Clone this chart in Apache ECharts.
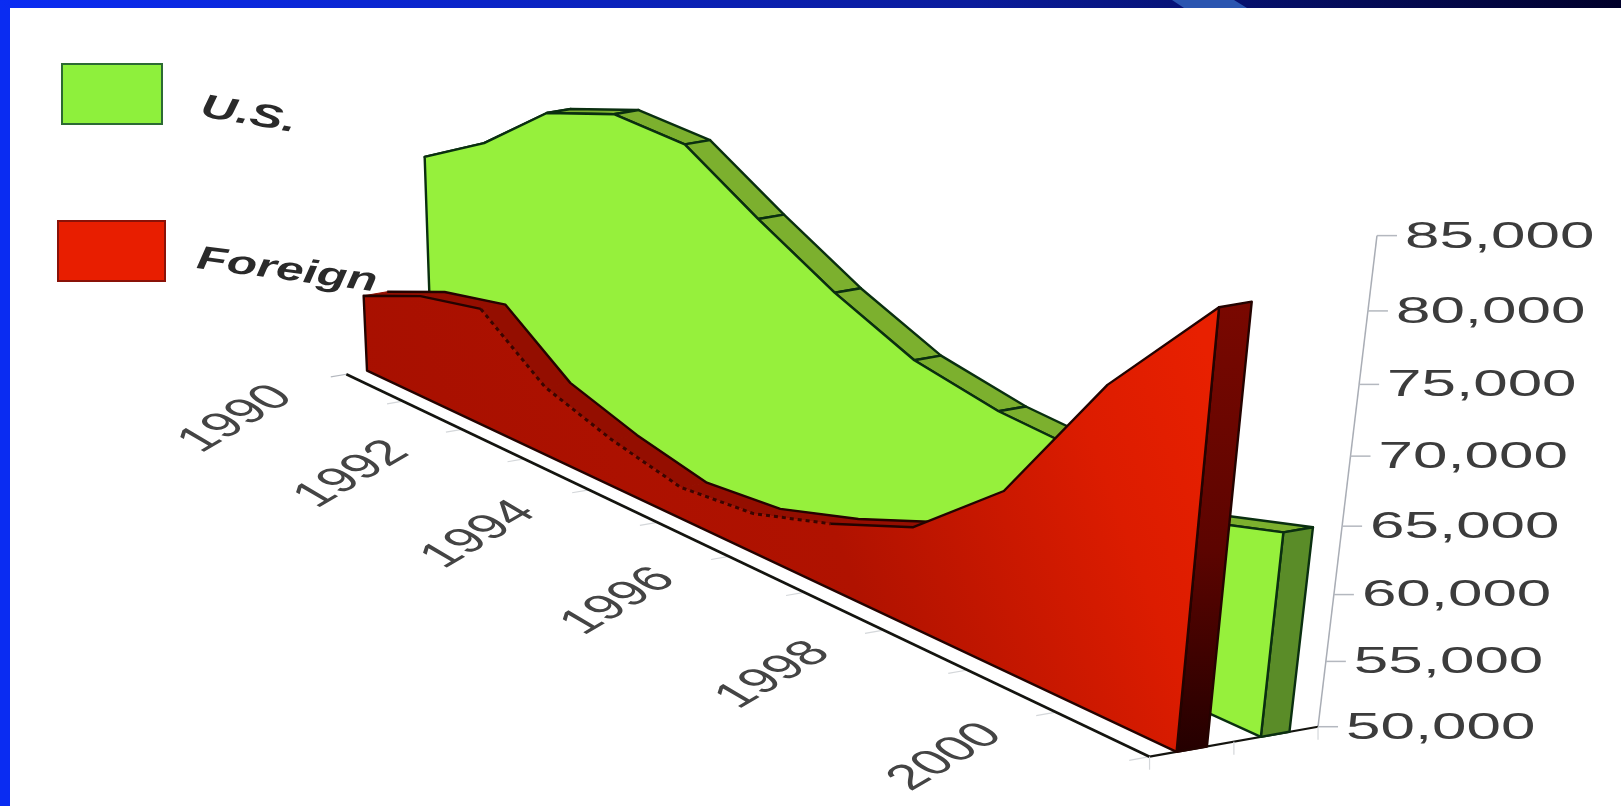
<!DOCTYPE html>
<html>
<head>
<meta charset="utf-8">
<style>
  html, body { margin: 0; padding: 0; background: #fff; }
  #chart { width: 1621px; height: 806px; }
</style>
<script src="https://cdn.jsdelivr.net/npm/echarts@6/dist/echarts.min.js"></script>
</head>
<body>
<div id="chart"></div>
<script>
// Annual values, 1990 to 2001
const years = [1990, 1991, 1992, 1993, 1994, 1995, 1996, 1997, 1998, 1999, 2000, 2001];
const usValues = [68800, 72000, 76500, 78300, 77800, 73900, 70300, 67400, 66000, 65400, 63400, 65300];
const foreignValues = [57100, 59400, 60600, 56100, 54100, 52700, 53300, 55350, 58000, 63700, 74200, 82000];

// Axis labels
const yearLabels = [1990, 1992, 1994, 1996, 1998, 2000];
const valueTicks = [50000, 55000, 60000, 65000, 70000, 75000, 80000, 85000];
const legendNames = ['U.S.', 'Foreign'];

const minYear = 1990, maxYear = 2001, minValue = 50000, maxValue = 85000;

// Hidden cartesian frame supplying the scales; its pixels are re-projected below
const flat = { left: 0, top: 0, width: 1100, height: 700 };

// Perspective camera: origin plus one homogeneous column per axis (year, value, depth)
const cam = {
  o: [335, 362],
  year: [46.17, 17.53, -0.022],
  value: [-37.4, -374.7, -0.0606],
  depth: [125.7, -20.8, 0.0017],
  zoom: 1621 / 1568
};

function project(u, v, d) {
  const w = 1 + u * cam.year[2] + v * cam.value[2] + d * cam.depth[2];
  const x = cam.o[0] + u * cam.year[0] + v * cam.value[0] + d * cam.depth[0];
  const y = cam.o[1] + u * cam.year[1] + v * cam.value[1] + d * cam.depth[1];
  return [x / w * cam.zoom, y / w * cam.zoom];
}

// Scale a (year, value) pair through the cartesian axes and project it at a given depth
function place(api, year, value, d) {
  const p = api.coord([year, value]);
  const u = (p[0] - flat.left) / flat.width * (maxYear - minYear);
  const v = (flat.top + flat.height - p[1]) / flat.height;
  return project(u, v, d);
}

function ribbon(values, d0, d1, look) {
  return function (params, api) {
    if (params.dataIndex !== 0) return null;
    const kids = [];
    const edge = { stroke: look.line, lineWidth: 2.4, lineJoin: 'round' };
    const last = years.length - 1;
    const poly = (points, style) => kids.push({ type: 'polygon', shape: { points }, style });
    const path = (points, extra) => kids.push({
      type: 'polyline', shape: { points },
      style: Object.assign({ fill: null }, edge, extra || {})
    });

    // Sloped top faces, left to right
    for (let i = 0; i < last; i++) {
      const pts = [
        place(api, years[i], values[i], d0),
        place(api, years[i], values[i], d1),
        place(api, years[i + 1], values[i + 1], d1),
        place(api, years[i + 1], values[i + 1], d0)
      ];
      poly(pts, look.blendRibs
        ? { fill: look.top, stroke: look.top, lineWidth: 1 }
        : Object.assign({ fill: look.top }, edge));
    }
    if (look.blendRibs) {
      path(years.map((yr, i) => place(api, yr, values[i], d1)));
    }
    // Closing face at the last year
    poly([
      place(api, maxYear, minValue, d0),
      place(api, maxYear, values[last], d0),
      place(api, maxYear, values[last], d1),
      place(api, maxYear, minValue, d1)
    ], Object.assign({ fill: look.cap }, edge));

    // Front face
    const ridge = years.map((yr, i) => place(api, yr, values[i], d0));
    const footL = place(api, minYear, minValue, d0);
    const footR = place(api, maxYear, minValue, d0);
    poly([footL].concat(ridge, [footR]), { fill: look.front });

    if (look.dashRidge) {
      const [a, b] = look.dashRidge;
      path(ridge.slice(a, b + 1), { lineDash: [4, 4], lineWidth: 3, stroke: '#3a0500' });
      path(ridge.slice(b).concat([footR, footL], ridge.slice(0, a + 1)));
    } else {
      path([footL].concat(ridge, [footR, footL]));
    }
    return { type: 'group', children: kids };
  };
}

function axes(params, api) {
  if (params.dataIndex !== 0) return null;
  const kids = [];
  const line = (a, b, stroke, lineWidth) => kids.push({
    type: 'line',
    shape: { x1: a[0], y1: a[1], x2: b[0], y2: b[1] },
    style: { stroke, lineWidth }
  });
  const faint = '#d4d7da';

  // Value axis on the far right edge
  line(place(api, maxYear, minValue, 1), place(api, maxYear, maxValue, 1), '#a9adb5', 1.5);
  valueTicks.forEach((val) => {
    const p = place(api, maxYear, val, 1);
    line(p, [p[0] + 20, p[1]], '#b4b8bf', 1.5);
    kids.push({
      type: 'text', x: p[0] + 28, y: p[1] + 2, scaleX: 1.72, scaleY: 1,
      style: {
        text: val.toLocaleString('en-US'),
        font: '36px "Liberation Sans"', fill: '#3c3c3c',
        align: 'left', verticalAlign: 'middle'
      }
    });
  });

  // Year ticks and slanted labels along the front edge
  years.forEach((yr) => {
    line(place(api, yr, minValue, 0), place(api, yr, minValue, -0.12), yr === minYear ? '#b4b8bf' : faint, 1.2);
  });
  yearLabels.forEach((yr) => {
    const p = place(api, yr, minValue, 0);
    // Text turned 45 degrees inside a frame stretched sideways, so the digits read as lying on the floor
    kids.push({
      type: 'group', x: p[0] - 110, y: p[1] + 45, scaleX: 1.4, scaleY: 0.82,
      children: [{
        type: 'text', rotation: Math.PI / 4,
        style: {
          text: String(yr),
          font: '43px "Liberation Sans"', fill: '#444444',
          align: 'center', verticalAlign: 'middle'
        }
      }]
    });
  });

  // Floor edges
  line(place(api, minYear, minValue, 0), place(api, maxYear, minValue, 0), '#14140f', 2.6);
  line(place(api, maxYear, minValue, 0), place(api, maxYear, minValue, 1), '#14140f', 2.2);
  [0, 0.5, 1].forEach((d) => {
    const p = place(api, maxYear, minValue, d);
    line(p, [p[0], p[1] + 13], faint, 1.2);
  });
  return { type: 'group', children: kids };
}

const pairs = (vals) => years.map((yr, i) => [yr, vals[i]]);

const chart = echarts.init(document.getElementById('chart'));
chart.setOption({
  animation: false,
  backgroundColor: '#ffffff',
  grid: { left: flat.left, top: flat.top, width: flat.width, height: flat.height },
  xAxis: { type: 'value', min: minYear, max: maxYear, show: false },
  yAxis: { type: 'value', min: minValue, max: maxValue, show: false },
  tooltip: { show: false },
  series: [
    { type: 'custom', name: 'Axes', silent: true, data: pairs(usValues), renderItem: axes, z: 1 },
    {
      type: 'custom', name: legendNames[0], silent: true, data: pairs(usValues), z: 2,
      renderItem: ribbon(usValues, 0.66, 0.83, {
        line: '#0a2f10', top: '#7cb02e', cap: '#5a8c28', front: '#96f03c'
      })
    },
    {
      type: 'custom', name: legendNames[1], silent: true, data: pairs(foreignValues), z: 3,
      renderItem: ribbon(foreignValues, 0.16, 0.34, {
        line: '#240300', top: '#940e00', blendRibs: true, dashRidge: [2, 7],
        cap: new echarts.graphic.LinearGradient(0, 0, 0, 1, [
          { offset: 0, color: '#7a0800' }, { offset: 0.55, color: '#5c0400' }, { offset: 1, color: '#240000' }
        ]),
        front: new echarts.graphic.LinearGradient(0, 0.9, 1, 0.2, [
          { offset: 0, color: '#a50f00' }, { offset: 0.55, color: '#b01200' },
          { offset: 0.85, color: '#dc1c00' }, { offset: 1, color: '#e82000' }
        ])
      })
    }
  ],
  graphic: [
    // Slide frame
    { type: 'rect', z: 50, silent: true, shape: { x: 0, y: 0, width: 10, height: 806 }, style: { fill: '#0a2cf2' } },
    {
      type: 'rect', z: 51, silent: true, shape: { x: 0, y: 0, width: 1621, height: 8 },
      style: { fill: new echarts.graphic.LinearGradient(0, 0, 1, 0, [
        { offset: 0, color: '#0a2cf2' }, { offset: 0.6, color: '#0a1c9c' }, { offset: 1, color: '#00002a' }
      ]) }
    },
    {
      type: 'polygon', z: 52, silent: true,
      shape: { points: [[1172, 0], [1234, 0], [1247, 8], [1184, 8]] },
      style: { fill: '#2a55b0' }
    },
    // Legend
    {
      type: 'rect', z: 53, silent: true, shape: { x: 62, y: 64, width: 100, height: 60 },
      style: { fill: '#8ef03c', stroke: '#2c6a33', lineWidth: 2 }
    },
    {
      type: 'rect', z: 53, silent: true, shape: { x: 58, y: 221, width: 107, height: 60 },
      style: { fill: '#e81e00', stroke: '#8a1208', lineWidth: 2 }
    },
    {
      type: 'text', z: 53, silent: true, x: 201, y: 107, rotation: -0.17, scaleX: 1.5, scaleY: 1,
      style: { text: legendNames[0], font: 'italic bold 33px "Liberation Sans"', fill: '#2a2a2a', align: 'left', verticalAlign: 'middle' }
    },
    {
      type: 'text', z: 53, silent: true, x: 197, y: 259, rotation: -0.13, scaleX: 1.5, scaleY: 1,
      style: { text: legendNames[1], font: 'italic bold 33px "Liberation Sans"', fill: '#2a2a2a', align: 'left', verticalAlign: 'middle' }
    }
  ]
});
</script>
</body>
</html>
